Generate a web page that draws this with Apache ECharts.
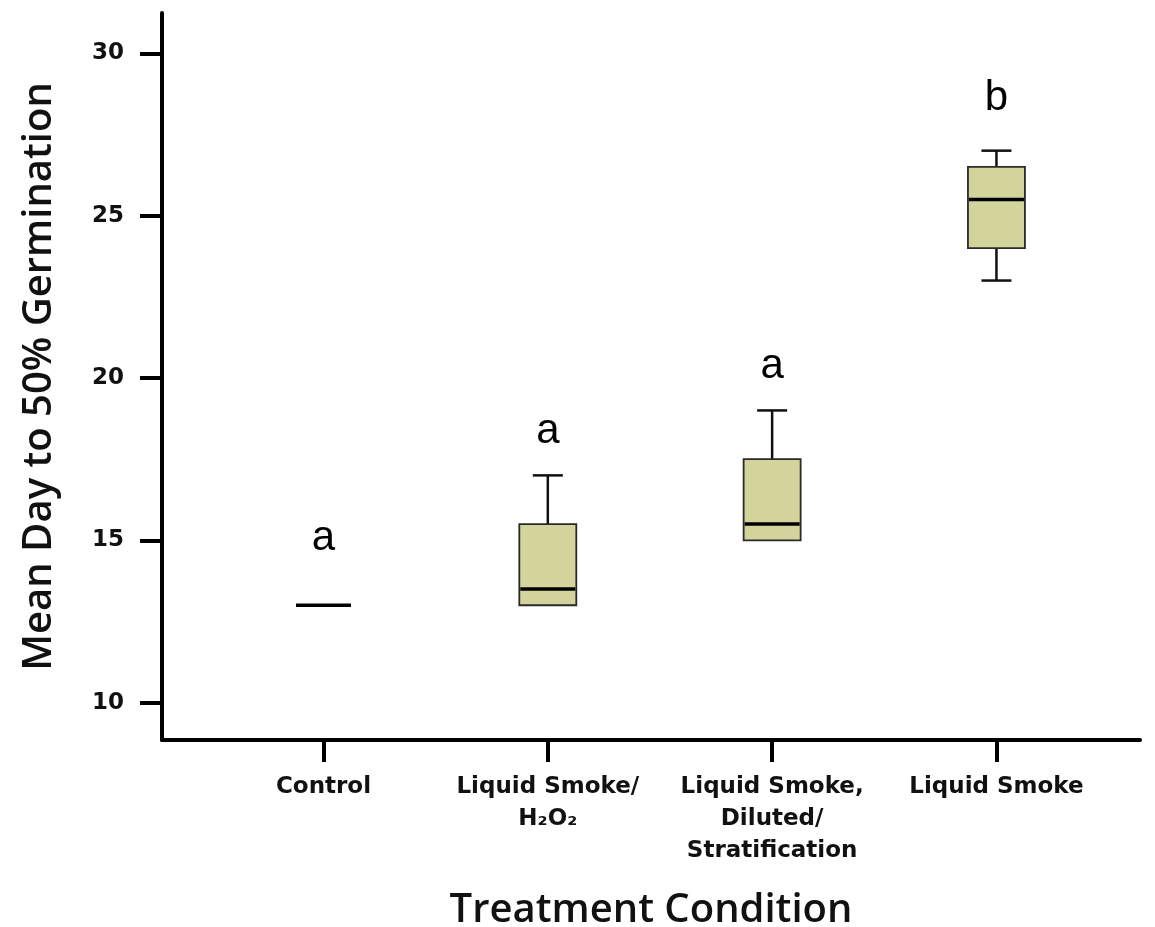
<!DOCTYPE html>
<html><head><meta charset="utf-8">
<script src="https://cdn.jsdelivr.net/npm/echarts@6/dist/echarts.min.js"></script>
<style>html,body{margin:0;padding:0;background:#fff}#c{width:1155px;height:927px}</style>
</head><body><div id="c"></div>
<script>
const categories = ['Control', 'Liquid Smoke/\nH₂O₂', 'Liquid Smoke,\nDiluted/\nStratification', 'Liquid Smoke'];
const catPos = [1, 2, 3, 4];
// [min, Q1, median, Q3, max]
const boxMin = [13, 13, 15, 23];
const boxQ1 = [13, 13, 15, 24];
const boxMedian = [13, 13.5, 15.5, 25.5];
const boxQ3 = [13, 15.5, 17.5, 26.5];
const boxMax = [13, 17, 19, 27];
const letters = ['a', 'a', 'a', 'b'];
const letterY = [15.07, 18.35, 20.35, 28.6];
const yTicks = [10, 15, 20, 25, 30];

const boxData = catPos.map((x, i) => [x, boxMin[i], boxQ1[i], boxMedian[i], boxQ3[i], boxMax[i]]);
const letterData = catPos.map((x, i) => [x, letterY[i], i]);

const chart = echarts.init(document.getElementById('c'));
const BOXW = 57, CAPW = 30;
chart.setOption({
  animation: false,
  grid: {left: 162, right: 15, top: 13, bottom: 187, outerBoundsMode: 'none', containLabel: false},
  xAxis: {
    type: 'value', min: 0.28, max: 4.64,
    splitLine: {show: false},
    axisLine: {show: true, lineStyle: {color: '#000', width: 4}},
    axisTick: {show: true, customValues: catPos, length: 22, lineStyle: {color: '#000', width: 4}},
    axisLabel: {
      customValues: catPos, margin: 31,
      formatter: v => categories[Math.round(v) - 1] || '',
      fontFamily: 'DejaVu Sans', fontWeight: 'bold', fontSize: 23, color: '#111', lineHeight: 32
    },
    name: 'Treatment Condition', nameLocation: 'middle', nameGap: 151,
    nameTextStyle: {fontFamily: 'Open Sans', fontWeight: 600, fontSize: 40, color: '#111', verticalAlign: 'top'}
  },
  yAxis: {
    type: 'value', min: 8.85, max: 31.24,
    splitLine: {show: false},
    axisLine: {show: true, lineStyle: {color: '#000', width: 4}},
    axisTick: {show: true, customValues: yTicks, length: 22, lineStyle: {color: '#000', width: 4}},
    axisLabel: {customValues: yTicks, margin: 38, fontFamily: 'DejaVu Sans', fontWeight: 'bold', fontSize: 23, color: '#111'},
    name: 'Mean Day to 50% Germination', nameLocation: 'middle', nameGap: 102,
    nameTextStyle: {fontFamily: 'Open Sans', fontWeight: 600, fontSize: 40, color: '#111'}
  },
  series: [
    {
      type: 'custom',
      data: boxData,
      renderItem: function (params, api) {
        const x = api.value(0);
        const mn = api.value(1), q1 = api.value(2), md = api.value(3), q3 = api.value(4), mx = api.value(5);
        const pMin = api.coord([x, mn]), pQ1 = api.coord([x, q1]), pMd = api.coord([x, md]);
        const pQ3 = api.coord([x, q3]), pMax = api.coord([x, mx]);
        const cx = pMd[0];
        const children = [];
        const wl = {stroke: '#111', lineWidth: 2.5};
        if (mx > q3) {
          children.push({type: 'line', shape: {x1: cx, y1: pQ3[1], x2: cx, y2: pMax[1]}, style: wl});
          children.push({type: 'line', shape: {x1: cx - CAPW / 2, y1: pMax[1], x2: cx + CAPW / 2, y2: pMax[1]}, style: wl});
        }
        if (mn < q1) {
          children.push({type: 'line', shape: {x1: cx, y1: pQ1[1], x2: cx, y2: pMin[1]}, style: wl});
          children.push({type: 'line', shape: {x1: cx - CAPW / 2, y1: pMin[1], x2: cx + CAPW / 2, y2: pMin[1]}, style: wl});
        }
        if (q3 > q1) {
          children.push({type: 'rect', shape: {x: cx - BOXW / 2, y: pQ3[1], width: BOXW, height: pQ1[1] - pQ3[1]},
            style: {fill: '#d3d49b', stroke: '#2a2a2a', lineWidth: 1.8}});
        }
        children.push({type: 'line', shape: {x1: cx - BOXW / 2 + 1, y1: pMd[1], x2: cx + BOXW / 2 - 1, y2: pMd[1]},
          style: {stroke: '#000', lineWidth: 3.5}});
        return {type: 'group', children: children};
      },
      z: 3
    },
    {
      type: 'custom',
      data: letterData,
      renderItem: function (params, api) {
        const p = api.coord([api.value(0), api.value(1)]);
        return {type: 'text', x: p[0], y: p[1],
          style: {text: letters[api.value(2)], fontFamily: 'Liberation Sans', fontSize: 42, fill: '#000',
            align: 'center', verticalAlign: 'middle'}};
      },
      z: 4
    }
  ]
});
</script></body></html>
